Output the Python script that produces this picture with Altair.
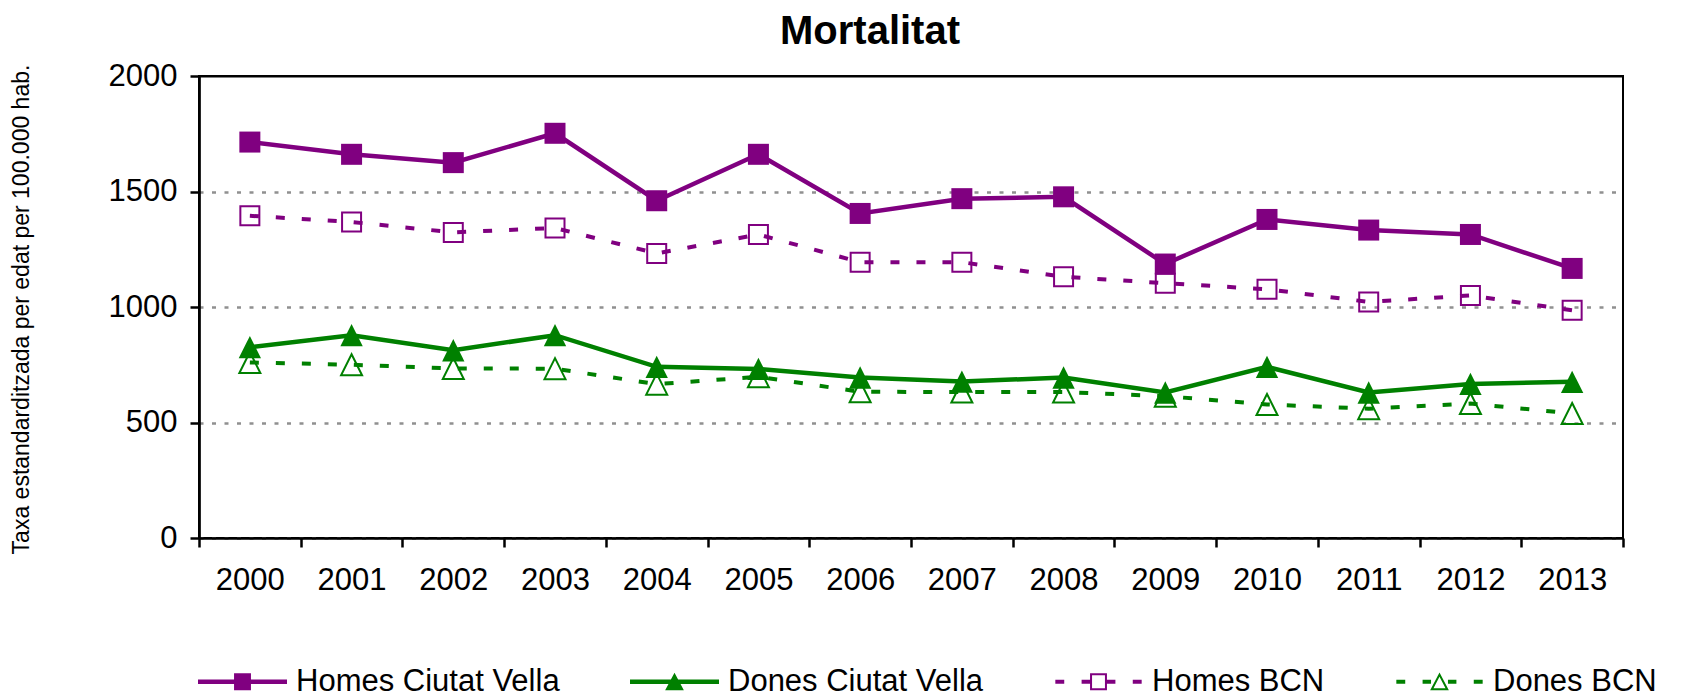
import altair as alt
import pandas as pd

years = [str(y) for y in range(2000, 2014)]
series = ["Homes Ciutat Vella", "Dones Ciutat Vella", "Homes BCN", "Dones BCN"]
homes_cv = [1714, 1661, 1625, 1752, 1460, 1661, 1405, 1469, 1477, 1186, 1379, 1333, 1314, 1167]
dones_cv = [826, 878, 813, 878, 741, 732, 695, 677, 695, 630, 741, 630, 667, 676]
homes_bcn = [1395, 1368, 1323, 1342, 1232, 1314, 1194, 1194, 1131, 1103, 1077, 1022, 1050, 986]
dones_bcn = [760, 750, 734, 733, 666, 698, 633, 632, 632, 614, 578, 560, 582, 539]
y_ticks = [0, 500, 1000, 1500, 2000]

PURPLE = "#800080"
GREEN = "#008000"
colors = [PURPLE, GREEN, PURPLE, GREEN]
FONT = "Liberation Sans"

rows = []
for name, vals, col in zip(series, [homes_cv, dones_cv, homes_bcn, dones_bcn], colors):
    for yr, v in zip(years, vals):
        rows.append({"year": yr, "value": v, "series": name, "color": col})
df = pd.DataFrame(rows)

# legend symbols: line (solid or dashed) with marker, unit coords
DASHES = ("M-0.97,-0.045H-0.77V0.045H-0.97Z M-0.38,-0.045H-0.19V0.045H-0.38Z "
          "M0.19,-0.045H0.38V0.045H0.19Z M0.77,-0.045H0.97V0.045H0.77Z ")
SOLID = "M-1,-0.05H1V0.05H-1Z "
legend_paths = [
    SOLID + "M-0.19,-0.19H0.19V0.19H-0.19Z",
    SOLID + "M0,-0.2L0.21,0.19L-0.21,0.19Z",
    DASHES + "M-0.19,-0.19H0.19V0.19H-0.19Z M-0.145,-0.145V0.145H0.145V-0.145Z",
    DASHES + "M0,-0.21L0.21,0.19L-0.21,0.19Z M0,-0.113L-0.135,0.145L0.135,0.145Z",
]
TRI = "M0,-1L1,1L-1,1Z"

x_enc = alt.X("year:N", sort=years, title=None,
              scale=alt.Scale(paddingInner=0, paddingOuter=0),
              axis=alt.Axis(tickBand="extent", labelAngle=0, labelFontSize=31, labelFont=FONT,
                            labelColor="black", labelPadding=18, tickSize=9, tickWidth=2.5,
                            tickColor="black", domainColor="black", domainWidth=2.7, grid=False))
y_enc = alt.Y("value:Q", title="Taxa estandarditzada per edat per 100.000 hab.",
              scale=alt.Scale(domain=[0, 2000], nice=False),
              axis=alt.Axis(values=y_ticks, format="d", labelFontSize=31, labelFont=FONT,
                            labelColor="black", labelPadding=13, tickSize=9, tickWidth=2.5,
                            tickColor="black", domainColor="black", domainWidth=2.7,
                            grid=True,
                            gridColor=alt.condition("datum.value >= 2000", alt.value("black"),
                                                    alt.value("#909090")),
                            gridDash=alt.condition("datum.value >= 2000", alt.value([1, 0]),
                                                   alt.value([4, 8.5])),
                            gridWidth=alt.condition("datum.value >= 2000", alt.value(2),
                                                    alt.value(2.5)),
                            titleFont=FONT, titleFontSize=23, titleFontWeight="normal",
                            titleColor="black", titleAngle=270, titleX=-171, titleY=233,
                            titleAlign="center", titleBaseline="alphabetic"))

base = alt.Chart(df).encode(x=x_enc, y=y_enc)

def only(*names):
    return alt.FieldOneOfPredicate(field="series", oneOf=list(names))

solid = base.transform_filter(only(series[0], series[1])).mark_line(strokeWidth=4.5).encode(
    stroke=alt.Stroke("color:N", scale=None), detail="series:N")
dashed = base.transform_filter(only(series[2], series[3])).mark_line(
    strokeWidth=4, strokeDash=[9, 17]).encode(
    stroke=alt.Stroke("color:N", scale=None), detail="series:N")

p_hcv = base.transform_filter(only(series[0])).mark_point(
    shape="square", size=441, filled=True, color=PURPLE, opacity=1, strokeWidth=0)
p_dcv = base.transform_filter(only(series[1])).mark_point(
    shape=TRI, size=500, filled=True, color=GREEN, opacity=1, strokeWidth=0)
p_hbcn = base.transform_filter(only(series[2])).mark_point(
    shape="square", size=361, filled=False, color=PURPLE, opacity=1, strokeWidth=2)
p_dbcn = base.transform_filter(only(series[3])).mark_point(
    shape=TRI, size=441, filled=False, color=GREEN, opacity=1, strokeWidth=2)

leg = alt.Legend(title=None, orient="none", legendX=-1, legendY=561, direction="horizontal",
                 columns=4, columnPadding=70, gridAlign="each", symbolSize=7921,
                 symbolStrokeWidth=0, symbolOpacity=1, labelFontSize=31, labelFont=FONT,
                 labelColor="black", labelOffset=9, labelLimit=0)
legend_layer = alt.Chart(df).transform_filter("false").mark_point(filled=True, opacity=1).encode(
    color=alt.Color("series:N", scale=alt.Scale(domain=series, range=colors), legend=leg),
    shape=alt.Shape("series:N", scale=alt.Scale(domain=series, range=legend_paths), legend=leg),
)

chart = alt.layer(solid, p_hcv, p_dcv, dashed, p_hbcn, p_dbcn, legend_layer).properties(
    width=1424, height=462,
    title=alt.TitleParams("Mortalitat", fontSize=40, fontWeight="bold", font=FONT,
                          color="black", anchor="middle", frame="group", dx=-41, offset=8),
    autosize=alt.AutoSizeParams(type="none"),
    padding={"left": 191, "top": 68, "right": 52, "bottom": 160},
).configure(background="white").configure_view(stroke="black", strokeWidth=2)

chart.save("out.html", embed_options={"renderer": "svg", "actions": False})
